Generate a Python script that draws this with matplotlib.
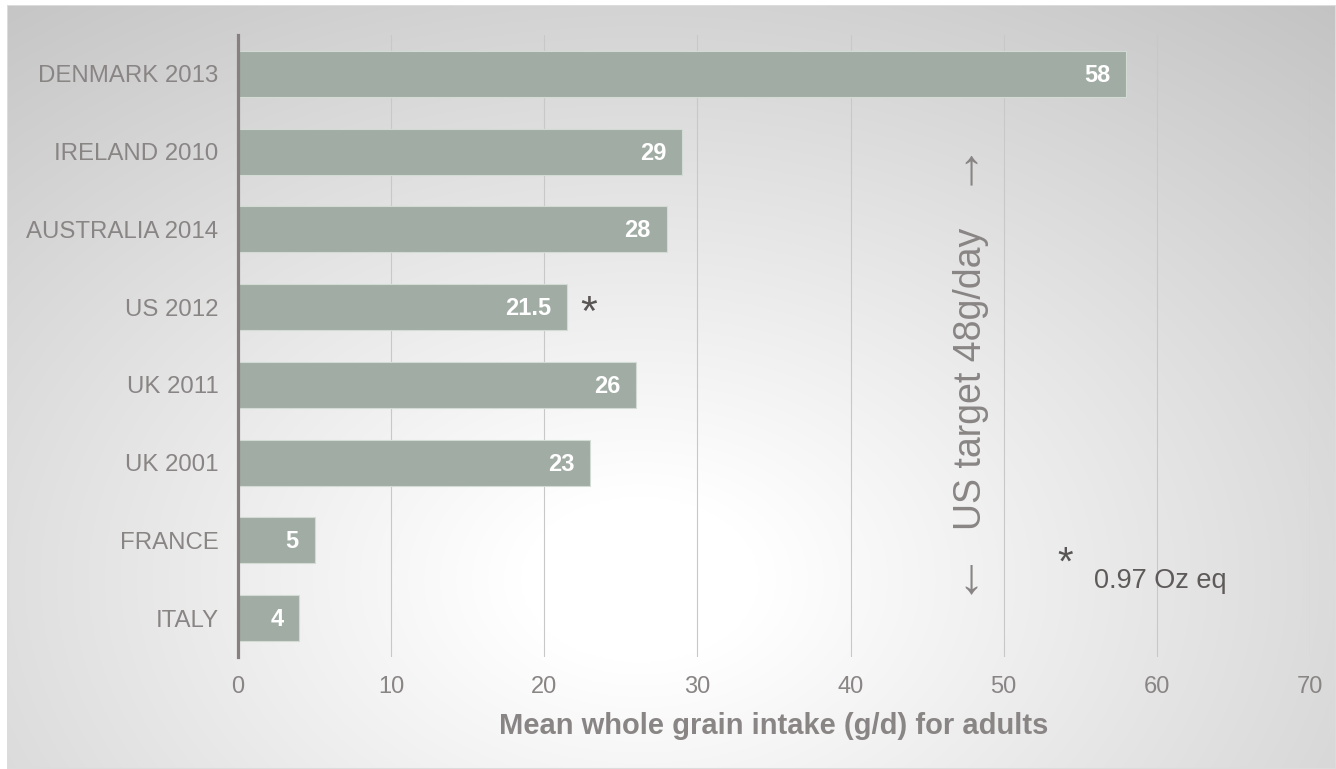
import numpy as np
import matplotlib
matplotlib.use("Agg")
import matplotlib.pyplot as plt

plt.rcParams['font.family'] = ['Liberation Sans', 'DejaVu Sans']

# Mean whole grain intake by survey
countries = ["DENMARK 2013", "IRELAND 2010", "AUSTRALIA 2014", "US 2012",
             "UK 2011", "UK 2001", "FRANCE", "ITALY"]
intake = [58, 29, 28, 21.5, 26, 23, 5, 4]
value_labels = ["58", "29", "28", "21.5", "26", "23", "5", "4"]
x_ticks = [0, 10, 20, 30, 40, 50, 60, 70]
us_target = 48
footnote_category = "US 2012"

W, H = 1336, 769
fig = plt.figure(figsize=(W / 100, H / 100), dpi=100, facecolor="white")

# Radial grey background panel
bg = fig.add_axes([7 / W, 0, 1 - 7 / W, 1 - 5 / H])
bg.set_axis_off()
nx, ny = 700, 400
xx, yy = np.meshgrid(np.linspace(7, W, nx), np.linspace(5, H, ny))
r = np.sqrt(((xx - 640) / 800) ** 2 + ((yy - 580) / 560) ** 2)
v = 1 - (60 / 255) * np.clip((r - 0.15) / 1.2, 0, 1)
rgb = np.dstack([v, v, v])
bg.imshow(rgb, extent=[0, 1, 0, 1], aspect="auto", origin="upper")
bg.set_xlim(0, 1)
bg.set_ylim(0, 1)
bg.add_patch(plt.Rectangle((0, 0), 1, 1, fill=False, edgecolor="#dcdcdc",
                           lw=1.5, transform=bg.transAxes))

ax = fig.add_axes([238 / W, 1 - 657 / H, (1310 - 238) / W, (657 - 35) / H])
ax.patch.set_alpha(0)

text_c = "#8a8585"
y = np.arange(len(countries))
ax.barh(y, intake, height=0.59, color="#a0aca4", edgecolor="#d3dbd5",
        linewidth=0.8, zorder=3)
ax.set_ylim(len(countries) - 0.5, -0.5)
ax.set_xlim(0, 70)
ax.set_yticks(y)
ax.set_yticklabels(countries, fontsize=17.3, color=text_c)
ax.set_xticks(x_ticks)
ax.set_xticklabels([str(t) for t in x_ticks], fontsize=17, color=text_c)
ax.tick_params(axis="both", length=0)
ax.tick_params(axis="y", pad=14)
ax.tick_params(axis="x", pad=14)

for s in ["top", "right", "bottom"]:
    ax.spines[s].set_visible(False)
ax.spines["left"].set_color("#868080")
ax.spines["left"].set_linewidth(2.3)
ax.spines["left"].set_zorder(5)

ax.grid(axis="x", color="#c8c8c8", linewidth=0.8, zorder=0)
ax.grid(axis="y", visible=False)

for yi, val, lab in zip(y, intake, value_labels):
    ax.annotate(lab, xy=(val, yi), xytext=(-11.5, -1), textcoords="offset points",
                ha="right", va="center", fontsize=17, fontweight="bold",
                color="white", zorder=6)

# asterisk next to the US bar
ui = countries.index(footnote_category)
ax.annotate("*", xy=(intake[ui], ui), xytext=(15.5, -5), textcoords="offset points",
            ha="center", va="center", fontsize=31, color="#5a5555", zorder=6)

ax.set_xlabel("Mean whole grain intake (g/d) for adults", fontsize=21,
              fontweight="bold", color=text_c, labelpad=10)

# US target annotation
tr = ax.get_xaxis_transform()
ax.text(us_target - 0.15, 0.447, "US target 48g/day", transform=tr, rotation=90,
        ha="center", va="center", fontsize=27, color=text_c)
ax.text(us_target - 0.15, 0.783, "\u2191", transform=tr, ha="center", va="center",
        fontsize=36, color=text_c)
ax.text(us_target - 0.15, 0.124, "\u2193", transform=tr, ha="center", va="center",
        fontsize=36, color=text_c)

# footnote
ax.text(54.0, 0.15, "*", transform=tr, ha="center", va="center", fontsize=29,
        color="#5a5555")
ax.text(55.9, 0.122, "0.97 Oz eq", transform=tr, ha="left", va="center",
        fontsize=19.5, color="#5f5a5a")

fig.savefig("out.png", dpi=100, facecolor="white")
